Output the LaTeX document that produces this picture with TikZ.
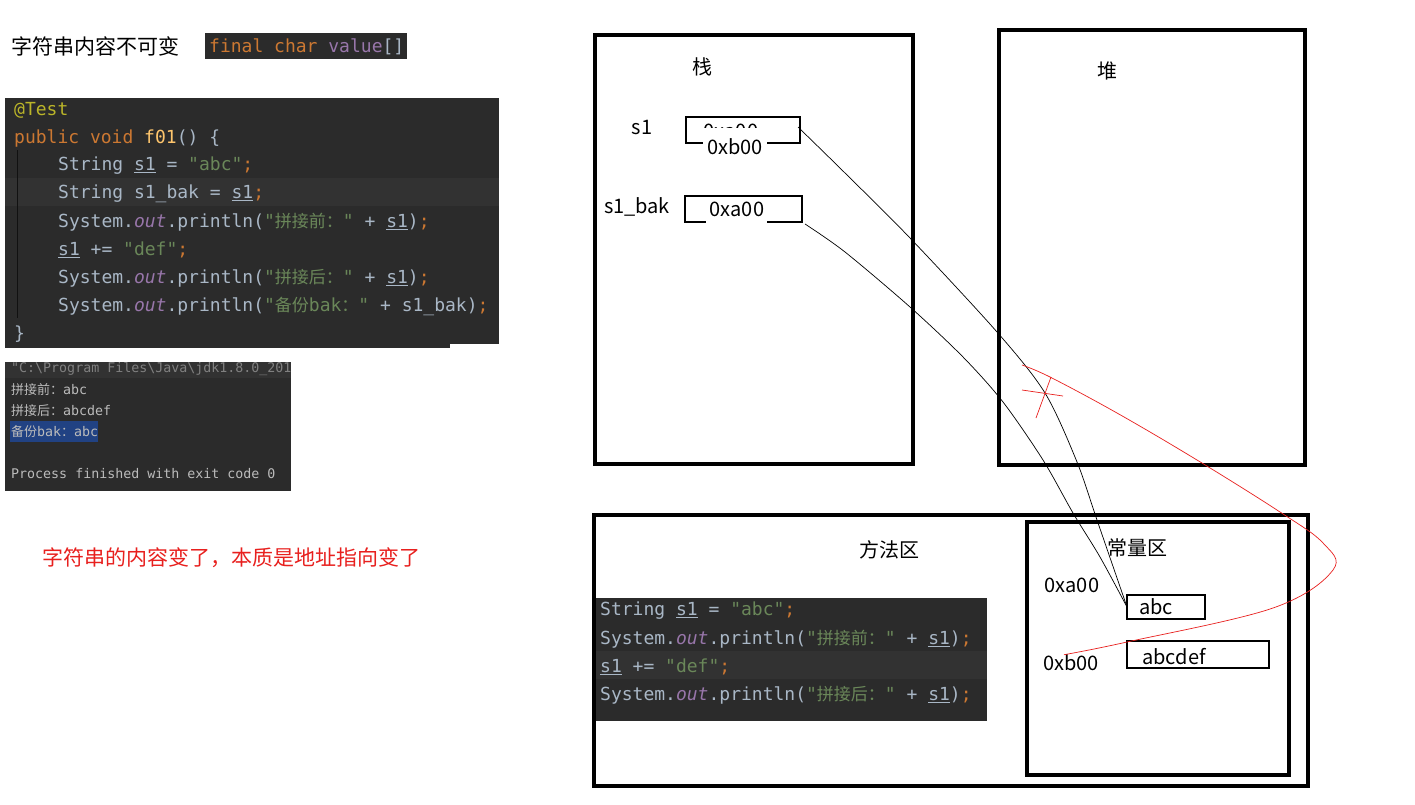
\documentclass[tikz,border=0pt]{standalone}
\usepackage{fontspec}
\setmainfont{Noto Sans CJK SC}
\setmonofont{DejaVu Sans Mono}
\newfontfamily\cjk{Noto Sans CJK SC}
\definecolor{bgc}{HTML}{2B2B2B}
\definecolor{hlc}{HTML}{323232}
\definecolor{fgc}{HTML}{A9B7C6}
\definecolor{kwc}{HTML}{CC7832}
\definecolor{strc}{HTML}{6A8759}
\definecolor{fldc}{HTML}{9876AA}
\definecolor{annc}{HTML}{BBB529}
\definecolor{fnc}{HTML}{FFC66D}
\definecolor{conc}{HTML}{BBBBBB}
\definecolor{congray}{HTML}{808080}
\definecolor{selc}{HTML}{214283}
\definecolor{redc}{HTML}{E8201E}
\newcommand\KW[1]{\textcolor{kwc}{#1}}
\newcommand\ST[1]{\textcolor{strc}{#1}}
\newcommand\FD[1]{\textcolor{fldc}{\itshape #1}}
\newcommand\UL[1]{\underline{#1}}
\newcommand\CN[1]{{\cjk\fontsize{17}{20}\selectfont #1}}
\newcommand\CC[1]{{\cjk\fontsize{13}{16}\selectfont #1}}
\begin{document}
\begin{tikzpicture}[x=1pt,y=-1pt,
  bigbox/.style={draw, line width=4pt, anchor=north west, inner sep=0, outer sep=0},
  cell/.style={draw, line width=1.1pt, anchor=north west, inner sep=0, outer sep=0},
  code/.style={anchor=west, inner sep=0, text=fgc, font=\fontsize{18}{20}\ttfamily},
  con/.style={anchor=west, inner sep=0, text=conc, font=\fontsize{13.3}{16}\ttfamily},
  lbl/.style={inner sep=0, font=\fontsize{20}{24}\selectfont},
  link/.style={draw, line width=0.7pt},
  redlink/.style={draw=redc, line width=0.7pt}]
\useasboundingbox (0,0) rectangle (1415,804);
\fill[white] (0,0) rectangle (1415,804);

% ---------- left: title and snippet ----------
\node[inner sep=0, font=\fontsize{21}{24}\selectfont] (title) at (96,46) {字符串内容不可变};
\fill[bgc] (205,33) rectangle (407,59);
\node[code] (snip) at (209,47) {\KW{final char }\textcolor{fldc}{value}[]};

% ---------- main code block ----------
\fill[bgc] (5,98) rectangle (499,344);
\fill[bgc] (5,344) rectangle (450,348);
\fill[hlc] (5,178) rectangle (499,206);
\draw[color=black!60!bgc, line width=0.6pt] (17,150) -- (17,318);
\node[code] (c1) at (14,110) {\textcolor{annc}{@Test}};
\node[code] (c2) at (14,138) {\KW{public void }\textcolor{fnc}{f01}() \{};
\node[code] (c3) at (58,166) {String \UL{s1} = \ST{"abc"}\KW{;}};
\node[code] (c4) at (58,194) {String s1\_bak = \UL{s1}\KW{;}};
\node[code] (c5) at (58,222) {System.\FD{out}.println(\ST{"\CN{拼接前：}"} + \UL{s1})\KW{;}};
\node[code] (c6) at (58,250) {\UL{s1} += \ST{"def"}\KW{;}};
\node[code] (c7) at (58,278) {System.\FD{out}.println(\ST{"\CN{拼接后：}"} + \UL{s1})\KW{;}};
\node[code] (c8) at (58,306) {System.\FD{out}.println(\ST{"\CN{备份}bak\CN{：}"} + s1\_bak)\KW{;}};
\node[code] (c9) at (14,334) {\}};

% ---------- console ----------
\begin{scope}
\clip (5,362) rectangle (291,491);
\fill[bgc] (5,362) rectangle (291,491);
\fill[hlc] (5,362) rectangle (291,378);
\fill[selc] (10,421) rectangle (98,442);
\node[con, text=congray] (k1) at (11,369) {"C:\textbackslash Program Files\textbackslash Java\textbackslash jdk1.8.0\_201};
\node[con] (k2) at (11,390) {\CC{拼接前：}abc};
\node[con] (k3) at (11,411) {\CC{拼接后：}abcdef};
\node[con] (k4) at (11,432) {\CC{备份}bak\CC{：}abc};
\node[con] (k5) at (11,474) {Process finished with exit code 0};
\end{scope}

\node[inner sep=0, text=redc, font=\fontsize{21}{24}\selectfont] (note) at (231,558) {字符串的内容变了，本质是地址指向变了};

% ---------- memory areas ----------
\node[bigbox, minimum width=318pt, minimum height=429pt] (stack) at (595,35) {};
\node[bigbox, minimum width=306pt, minimum height=435pt] (heap) at (999,30) {};
\node[bigbox, minimum width=714pt, minimum height=271pt] (method) at (594,515) {};
\node[bigbox, minimum width=262pt, minimum height=253pt] (const) at (1027,522) {};

\node[lbl] (tstack) at (702,67) {栈};
\node[lbl] (theap) at (1107,71) {堆};
\node[lbl] (tmethod) at (889,550) {方法区};
\node[lbl] (tconst) at (1137,548) {常量区};

% stack variables
\node[lbl] (ls1) at (642,127) {s1};
\node[cell, minimum width=114pt, minimum height=26pt] (s1box) at (686,117) {};
\begin{scope}
\clip (690,119) rectangle (798,127);
\node[lbl] (olda) at (731,131) {0xa00};
\end{scope}
\node[lbl, fill=white, inner xsep=4pt, inner ysep=3pt] (newb) at (735,147) {0xb00};

\node[lbl] (ls1bak) at (637,207) {s1\_bak};
\node[cell, minimum width=117pt, minimum height=26pt] (bakbox) at (685,196) {};
\fill[white] (706,199) rectangle (767,225);
\node[lbl] (baka) at (737,209) {0xa00};

% constant pool
\node[lbl] (addra) at (1072,585) {0xa00};
\node[lbl] (addrb) at (1071,663) {0xb00};
\node[cell, minimum width=78pt, minimum height=24pt] (abc) at (1127,595) {};
\node[lbl] (tabc) at (1156,607) {abc};
\node[cell, minimum width=142pt, minimum height=27pt] (abcdef) at (1127,641) {};
\node[lbl] (tabcdef) at (1174,657) {abcdef};

% ---------- connectors ----------
\coordinate (s1out) at ([xshift=-2pt,yshift=3pt]s1box.east);
\coordinate (bakout) at ([xshift=3pt,yshift=-2pt]bakbox.south east);
\draw[link] plot[smooth, tension=0.5] coordinates {(s1out) (845,173) (910,238) (997,332) (1045,393) (1077,462) (1097,520) (abc.west)};
\draw[link] plot[smooth, tension=0.5] coordinates {(bakout) (845,252) (910,307) (963,357) (1003,402) (1043,460) (1073,513) (1100,557) (abc.west)};

\coordinate (redstart) at ([xshift=-7pt]addrb.north);
\coordinate (redend) at (1022,365);
\draw[redlink] plot[smooth, tension=0.6] coordinates {(redstart) (1127,642) (1273,608) (1333,570) (1323,543) (1280,512) (1197,460) (1117,413) (1050,377) (redend)};
\coordinate (xa) at (1022,390);
\coordinate (xb) at (1063,396);
\coordinate (xc) at (1051,377);
\coordinate (xd) at (1036,418);
\draw[redlink] (xa) -- (xb);
\draw[redlink] (xc) -- (xd);

% ---------- method area code ----------
\fill[bgc] (596,598) rectangle (987,721);
\fill[hlc] (596,651) rectangle (987,679);
\node[code] (m1) at (600,611) {String \UL{s1} = \ST{"abc"}\KW{;}};
\node[code] (m2) at (600,639) {System.\FD{out}.println(\ST{"\CN{拼接前：}"} + \UL{s1})\KW{;}};
\node[code] (m3) at (600,667) {\UL{s1} += \ST{"def"}\KW{;}};
\node[code] (m4) at (600,695) {System.\FD{out}.println(\ST{"\CN{拼接后：}"} + \UL{s1})\KW{;}};
\end{tikzpicture}
\end{document}
